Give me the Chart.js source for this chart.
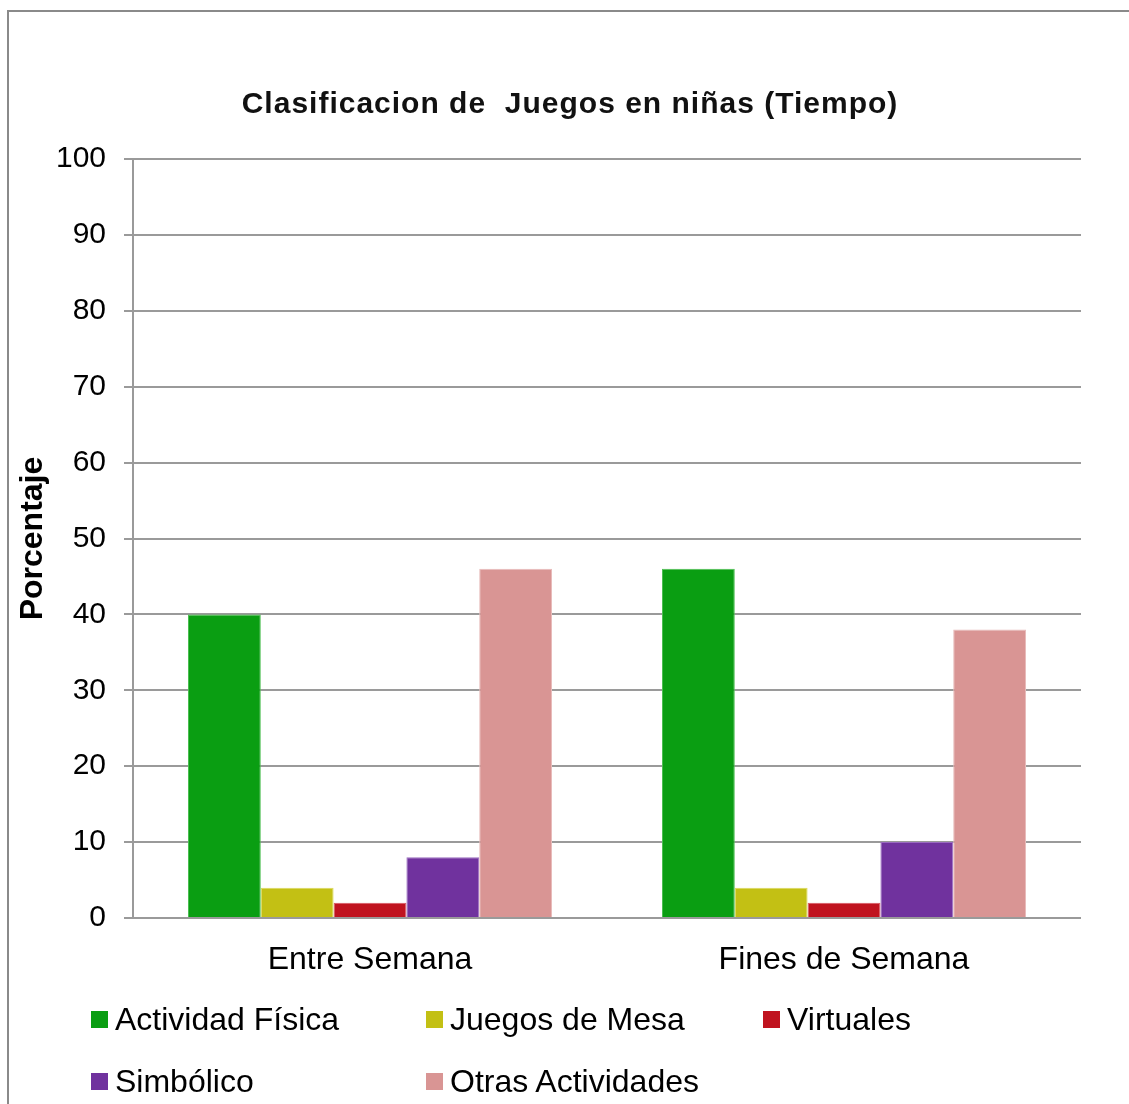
<!DOCTYPE html>
<html lang="es">
<head>
<meta charset="utf-8">
<title>Clasificacion de Juegos en niñas (Tiempo)</title>
<script src="https://cdn.jsdelivr.net/npm/chart.js@4.4.1/dist/chart.umd.min.js"></script>
<style>
  html, body { margin: 0; padding: 0; background: #fff; overflow: hidden; }
  #wrap { position: relative; width: 1129px; height: 1104px; }
  #frame { position: absolute; left: 7px; top: 10px; width: 1300px; height: 1300px;
           border: 2px solid #8a8a8a; box-sizing: border-box; }
  canvas { position: absolute; left: 0; top: 0; }
  #title { position: absolute; left: 170px; width: 800px; top: 84px; height: 38px; line-height: 38px;
           text-align: center; white-space: pre;
           font-family: "Liberation Sans", Arial, sans-serif; font-size: 30px; font-weight: bold;
           letter-spacing: 1px; color: #111; }
  #legend { position: absolute; left: 91px; top: 988px; display: grid;
            grid-template-columns: 335px 337px 300px; grid-auto-rows: 62px;
            font-family: "Liberation Sans", Arial, sans-serif; font-size: 32px; color: #000; }
  .item { display: flex; align-items: center; white-space: nowrap; }
  .box { width: 17px; height: 17px; margin-right: 7px; flex: none; }
</style>
</head>
<body>
<div id="wrap">
  <div id="frame"></div>
  <canvas id="chart" width="1129" height="1104"></canvas>
  <div id="title"></div>
  <div id="legend"></div>
</div>
<script>
// Time spent by girls on each type of play, in percent
const chartTitle = 'Clasificacion de  Juegos en niñas (Tiempo)';
const categories = ['Entre Semana', 'Fines de Semana'];
const seriesNames = ['Actividad Física', 'Juegos de Mesa', 'Virtuales', 'Simbólico', 'Otras Actividades'];
const actividadFisica = [40, 46];
const juegosDeMesa = [4, 4];
const virtuales = [2, 2];
const simbolico = [8, 10];
const otrasActividades = [46, 38];
const yTicks = [0, 10, 20, 30, 40, 50, 60, 70, 80, 90, 100];

const seriesValues = [actividadFisica, juegosDeMesa, virtuales, simbolico, otrasActividades];
const fills = ['#0a9e12', '#c3c014', '#c0131f', '#70329e', '#d99594'];
const edges = ['#4cbf52', '#dcd95a', '#d85560', '#9a6cc0', '#e8bcbb'];

const FONT = '"Liberation Sans", Arial, sans-serif';

document.getElementById('title').textContent = chartTitle;

const chart = new Chart(document.getElementById('chart'), {
  type: 'bar',
  data: {
    labels: categories,
    datasets: seriesNames.map((name, i) => ({
      label: name,
      data: seriesValues[i],
      backgroundColor: fills[i],
      borderColor: edges[i],
      borderWidth: 1,
      categoryPercentage: 0.768,
      barPercentage: 1.0
    }))
  },
  options: {
    responsive: false,
    animation: false,
    devicePixelRatio: 1,
    layout: { padding: { left: 14, right: 48, top: 159, bottom: 106 } },
    plugins: {
      legend: { display: false },
      tooltip: { enabled: false },
      title: { display: false }
    },
    scales: {
      x: {
        grid: { display: false },
        border: { display: false },
        ticks: { color: '#000', padding: 15, font: { family: FONT, size: 32 } },
        afterFit: (s) => { s.height = 80; }
      },
      y: {
        min: 0,
        max: 100,
        afterBuildTicks: (s) => { s.ticks = yTicks.map(v => ({ value: v })); },
        grid: { color: '#9a9a9a', lineWidth: 2, tickLength: 9 },
        border: { color: '#9a9a9a', width: 2 },
        ticks: { color: '#000', padding: 18, font: { family: FONT, size: 30, lineHeight: 1.1 } },
        title: {
          display: true,
          text: 'Porcentaje',
          color: '#000',
          font: { family: FONT, size: 32, weight: 'bold', lineHeight: 1.2 },
          padding: 0
        },
        afterFit: (s) => { s.width = 119; }
      }
    }
  }
});

// Legend laid out in three columns, built from the same series
const legend = document.getElementById('legend');
seriesNames.forEach((name, i) => {
  const item = document.createElement('div');
  item.className = 'item';
  const box = document.createElement('span');
  box.className = 'box';
  box.style.background = fills[i];
  const txt = document.createElement('span');
  txt.textContent = name;
  item.appendChild(box);
  item.appendChild(txt);
  legend.appendChild(item);
});
</script>
</body>
</html>
